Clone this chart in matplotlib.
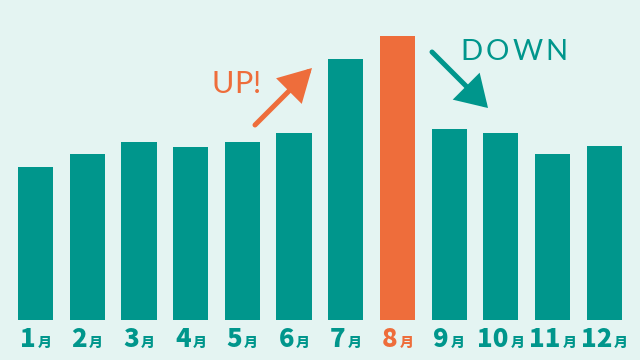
import matplotlib
matplotlib.use("Agg")
import matplotlib.pyplot as plt

months = [str(m) for m in range(1, 13)]
values = [153, 166, 178, 173, 178, 187, 261, 284, 191, 187, 166, 174]
highlight = 7  # August

bg = "#e4f4f2"
teal = "#00968c"
orange = "#ee6d3b"

fig = plt.figure(figsize=(6.4, 3.6), dpi=100, facecolor=bg)
ax = fig.add_axes([0, 0, 1, 1])
ax.set_facecolor(bg)
ax.axis("off")

colors = [orange if i == highlight else teal for i in range(len(values))]
ax.bar(range(len(values)), values, width=0.68, color=colors)
ax.set_xlim(-0.687, 11.69)
ax.set_ylim(-40, 320)

# arrows
ax.annotate("", xy=(312, 292), xytext=(255, 235), xycoords="figure pixels",
            textcoords="figure pixels",
            arrowprops=dict(arrowstyle="-|>,head_length=18,head_width=10",
                            mutation_scale=1, lw=3.6, color=orange,
                            shrinkA=0, shrinkB=0, joinstyle="miter"))
ax.annotate("", xy=(488, 252), xytext=(432, 308), xycoords="figure pixels",
            textcoords="figure pixels",
            arrowprops=dict(arrowstyle="-|>,head_length=17,head_width=10.5",
                            mutation_scale=1, lw=3.6, color=teal,
                            shrinkA=0, shrinkB=0, joinstyle="miter"))

# month labels: big bold number + small 月
pairs = []
for i, m in enumerate(months):
    c = orange if i == highlight else teal
    tn = fig.text(0, 13 / 360, m, color=c, fontsize=18.5, fontweight="heavy",
                  family="Noto Sans CJK JP", ha="left", va="baseline")
    tk = fig.text(0, 13 / 360, "月", color=c, fontsize=10, fontweight="heavy",
                  family="Noto Sans CJK JP", ha="left", va="baseline")
    pairs.append((i, tn, tk))


def spaced(word, cx, cy, color, size, spacing):
    letters = [fig.text(0, cy / 360, ch, color=color, fontsize=size,
                        family="Lato", ha="left", va="center") for ch in word]
    return letters, cx, spacing


words = [spaced("UP!", 236.5, 276, orange, 22, 0.5),
         spaced("DOWN", 514, 308, teal, 21, 3)]

fig.canvas.draw()
r = fig.canvas.get_renderer()
for i, tn, tk in pairs:
    wn = tn.get_window_extent(r).width
    wk = tk.get_window_extent(r).width
    gap = 2
    cx = ax.transData.transform((i, 0))[0]
    x0 = cx - (wn + gap + wk) / 2
    tn.set_x(x0 / 640)
    tk.set_x((x0 + wn + gap) / 640)

for letters, cx, spacing in words:
    ws = [t.get_window_extent(r).width for t in letters]
    total = sum(ws) + spacing * (len(ws) - 1)
    x = cx - total / 2
    for t, w in zip(letters, ws):
        t.set_x(x / 640)
        x += w + spacing

fig.savefig("out.png", dpi=100, facecolor=bg)
